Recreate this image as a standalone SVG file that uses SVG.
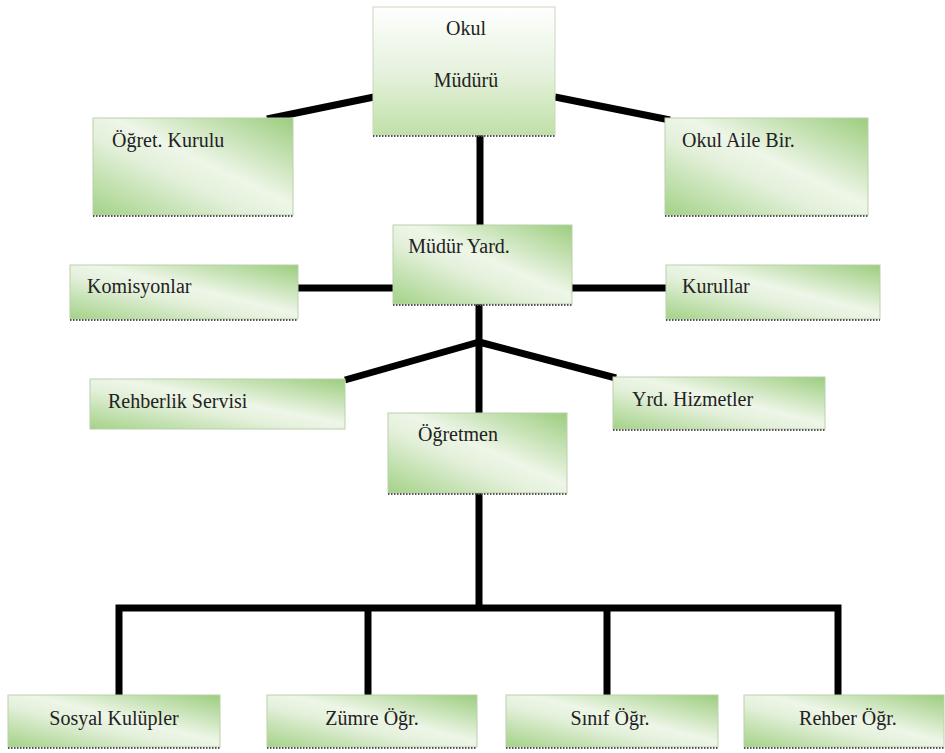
<svg xmlns="http://www.w3.org/2000/svg" width="945" height="753" viewBox="0 0 945 753">
<defs>
<linearGradient id="g" x1="1" y1="0" x2="0" y2="1">
<stop offset="0" stop-color="#9ccd7e"/>
<stop offset="0.45" stop-color="#eef6e8"/>
<stop offset="0.6" stop-color="#e3f0da"/>
<stop offset="1" stop-color="#a3d287"/>
</linearGradient>
<linearGradient id="gv" x1="0" y1="0" x2="0" y2="1">
<stop offset="0" stop-color="#ffffff"/>
<stop offset="0.5" stop-color="#e6f2de"/>
<stop offset="1" stop-color="#c0e0a8"/>
</linearGradient>
</defs>
<style>
.box{fill:url(#g);stroke:#bcd0ac;stroke-width:1}
.boxv{fill:url(#gv);stroke:#c8d8bc;stroke-width:1}
.sh{stroke:#555;stroke-width:2;stroke-dasharray:1.5 1.5;fill:none}
text{font-family:"Liberation Serif","DejaVu Serif","Noto Serif",Times,Georgia,serif;font-size:20px;fill:#222}
.c{stroke:#000;stroke-width:7;fill:none;stroke-linecap:butt}
</style>
<rect width="945" height="753" fill="#fff"/>
<g id="connectors">
<line class="c" x1="267" y1="119" x2="374" y2="97"/>
<line class="c" x1="555" y1="97" x2="670" y2="120"/>
<line class="c" x1="480" y1="135" x2="480" y2="226"/>
<line class="c" x1="298" y1="288" x2="394" y2="288"/>
<line class="c" x1="571" y1="288" x2="667" y2="288"/>
<line class="c" x1="479" y1="304" x2="479" y2="413"/>
<line class="c" x1="345" y1="380" x2="479" y2="342"/>
<line class="c" x1="479" y1="342" x2="616" y2="378"/>
<line class="c" x1="479" y1="493" x2="479" y2="608"/>
<polyline class="c" points="119,695 119,608 838,608 838,695"/>
<line class="c" x1="368" y1="608" x2="368" y2="695"/>
<line class="c" x1="607" y1="608" x2="607" y2="695"/>
</g>
<g id="okul-muduru">
<rect class="boxv" x="373" y="7" width="182" height="128"/>
<line class="sh" x1="373" y1="136" x2="555" y2="136"/>
<text x="466" y="35" text-anchor="middle">Okul</text>
<text x="466" y="87" text-anchor="middle">Müdürü</text>
</g>
<g id="ogret-kurulu">
<rect class="box" x="93" y="118" width="200" height="97"/>
<line class="sh" x1="93" y1="216" x2="293" y2="216"/>
<text x="112" y="147">Öğret. Kurulu</text>
</g>
<g id="okul-aile-bir">
<rect class="box" x="665" y="118" width="203" height="97"/>
<line class="sh" x1="665" y1="216" x2="868" y2="216"/>
<text x="682" y="147">Okul Aile Bir.</text>
</g>
<g id="mudur-yard">
<rect class="box" x="393" y="225" width="179" height="79"/>
<line class="sh" x1="393" y1="305" x2="572" y2="305"/>
<text x="459" y="253" text-anchor="middle">Müdür Yard.</text>
</g>
<g id="komisyonlar">
<rect class="box" x="70" y="265" width="228" height="54"/>
<line class="sh" x1="70" y1="320" x2="298" y2="320"/>
<text x="87" y="293">Komisyonlar</text>
</g>
<g id="kurullar">
<rect class="box" x="666" y="265" width="214" height="54"/>
<line class="sh" x1="666" y1="320" x2="880" y2="320"/>
<text x="682" y="293">Kurullar</text>
</g>
<g id="rehberlik-servisi">
<rect class="box" x="90" y="379" width="255" height="50"/>
<text x="108" y="408">Rehberlik Servisi</text>
</g>
<g id="yrd-hizmetler">
<rect class="box" x="613" y="377" width="212" height="52"/>
<line class="sh" x1="613" y1="430" x2="825" y2="430"/>
<text x="632" y="406">Yrd. Hizmetler</text>
</g>
<g id="ogretmen">
<rect class="box" x="388" y="413" width="179" height="80"/>
<line class="sh" x1="388" y1="494" x2="567" y2="494"/>
<text x="458" y="441" text-anchor="middle">Öğretmen</text>
</g>
<g id="sosyal-kulupler">
<rect class="box" x="8" y="695" width="212" height="52"/>
<line class="sh" x1="8" y1="748" x2="220" y2="748"/>
<text x="114" y="725" text-anchor="middle">Sosyal Kulüpler</text>
</g>
<g id="zumre-ogr">
<rect class="box" x="267" y="695" width="210" height="52"/>
<line class="sh" x1="267" y1="748" x2="477" y2="748"/>
<text x="372" y="725" text-anchor="middle">Zümre Öğr.</text>
</g>
<g id="sinif-ogr">
<rect class="box" x="506" y="695" width="212" height="52"/>
<line class="sh" x1="506" y1="748" x2="718" y2="748"/>
<text x="610" y="725" text-anchor="middle">Sınıf Öğr.</text>
</g>
<g id="rehber-ogr">
<rect class="box" x="744" y="695" width="200" height="52"/>
<line class="sh" x1="744" y1="748" x2="944" y2="748"/>
<text x="848" y="725" text-anchor="middle">Rehber Öğr.</text>
</g>
</svg>
